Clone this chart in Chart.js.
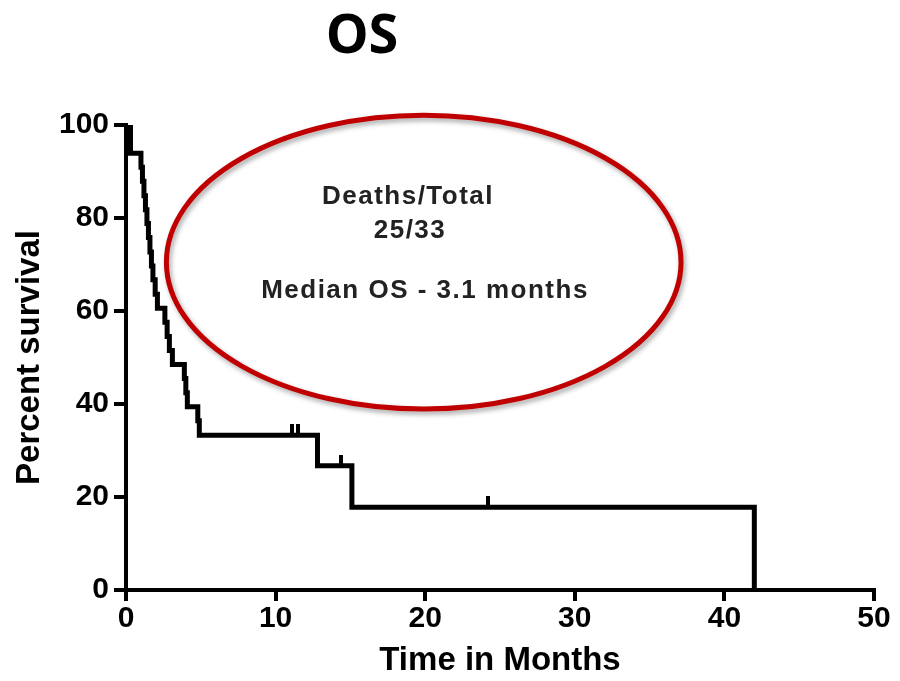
<!DOCTYPE html>
<html>
<head>
<meta charset="utf-8">
<script src="https://cdn.jsdelivr.net/npm/chart.js@4/dist/chart.umd.min.js"></script>
<style>
  html, body { margin: 0; padding: 0; background: #fff; }
  #wrap { width: 900px; height: 681px; }
</style>
</head>
<body>
<div id="wrap"><canvas id="osChart" width="900" height="681"></canvas></div>
<script>
// Kaplan-Meier steps: time (months) and survival (%) after each event
const eventTimes = [0, 0.3, 1.0, 1.1, 1.2, 1.3, 1.4, 1.5, 1.6, 1.7, 1.8, 1.95, 2.1, 2.6, 2.75, 2.9, 3.1, 3.9, 4.0, 4.1, 4.8, 4.9, 12.8, 15.1, 42.0];
const survival = [100, 93.9, 90.9, 87.9, 84.8, 81.8, 78.8, 75.8, 72.7, 69.7, 66.7, 63.6, 60.6, 57.6, 54.5, 51.5, 48.5, 45.5, 42.4, 39.4, 36.4, 33.3, 26.7, 17.8, 0];

// censored patients
const censorTimes = [11.1, 11.5, 14.4, 24.2];
const censorSurvival = [33.3, 33.3, 26.7, 17.8];

const xTicks = [0, 10, 20, 30, 40, 50];
const yTicks = [0, 20, 40, 60, 80, 100];

const titleText = "OS";
const noteLines = ["Deaths/Total", "25/33", "Median OS - 3.1 months"];

// small upward tick used for censor marks
function censorMark() {
    const c = document.createElement("canvas");
    c.width = 4;
    c.height = 22;
    const g = c.getContext("2d");
    g.fillStyle = "#000";
    g.fillRect(0, 0, 4, 11);
    return c;
}

const annotations = {
    id: "annotations",
    afterDraw(chart) {
        const ctx = chart.ctx;
        const xs = chart.scales.x;
        const ys = chart.scales.y;

        // title
        ctx.save();
        ctx.fillStyle = "#000";
        ctx.font = "bold 54px 'Open Sans'";
        ctx.textAlign = "center";
        ctx.textBaseline = "middle";
        ctx.fillText(titleText, 362, 38);
        ctx.restore();

        // red ellipse
        const cx = xs.getPixelForValue(19.9);
        const cy = ys.getPixelForValue(70.5);
        const rx = Math.abs(xs.getPixelForValue(19.9 + 17.2) - cx);
        const ry = Math.abs(ys.getPixelForValue(70.5 + 31.6) - cy);
        ctx.save();
        ctx.shadowColor = "rgba(0,0,0,0.35)";
        ctx.shadowBlur = 5;
        ctx.shadowOffsetX = 2;
        ctx.shadowOffsetY = 3;
        ctx.strokeStyle = "#C00000";
        ctx.lineWidth = 5;
        ctx.beginPath();
        ctx.ellipse(cx, cy, rx, ry, 0, 0, Math.PI * 2);
        ctx.stroke();
        ctx.restore();

        // text in ellipse
        ctx.save();
        ctx.fillStyle = "#222";
        ctx.font = "bold 26px 'Liberation Sans', Arial";
        ctx.letterSpacing = "1.5px";
        ctx.textAlign = "center";
        ctx.textBaseline = "middle";
        ctx.fillText(noteLines[0], 408, 197);
        ctx.fillText(noteLines[1], 410, 231);
        ctx.fillText(noteLines[2], 425, 291);
        ctx.restore();
    },
};

const tickFont = { family: "'Liberation Sans', Arial", size: 30, weight: "bold" };
const titleFont = { family: "'Liberation Sans', Arial", size: 33, weight: "bold" };

const config = {
    type: "line",
    data: {
        datasets: [
            {
                label: "OS",
                data: eventTimes.map((t, i) => ({ x: t, y: survival[i] })),
                stepped: true,
                borderColor: "#000",
                borderWidth: 5,
                borderJoinStyle: "miter",
                borderCapStyle: "butt",
                pointRadius: 0,
                fill: false,
            },
            {
                label: "Censored",
                data: censorTimes.map((t, i) => ({ x: t, y: censorSurvival[i] })),
                showLine: false,
                pointStyle: censorMark(),
                pointRadius: 6,
            },
        ],
    },
    options: {
        responsive: false,
        animation: false,
        layout: {
            padding: { top: 125, right: 26, left: 8, bottom: 0 },
        },
        plugins: {
            legend: { display: false },
            tooltip: { enabled: false },
        },
        scales: {
            x: {
                type: "linear",
                min: 0,
                max: 50,
                afterBuildTicks: (s) => { s.ticks = xTicks.map((v) => ({ value: v })); },
                afterFit: (s) => { s.height = 91; },
                border: { display: true, color: "#000", width: 4 },
                grid: { drawOnChartArea: false, drawTicks: true, tickLength: 11, color: "#000", lineWidth: 4 },
                ticks: { color: "#000", font: tickFont, padding: 0, maxRotation: 0 },
                title: { display: true, text: "Time in Months", color: "#000", font: titleFont, padding: { top: 0, bottom: 0 } },
            },
            y: {
                min: 0,
                max: 100,
                afterBuildTicks: (s) => { s.ticks = yTicks.map((v) => ({ value: v })); },
                afterFit: (s) => { s.width = 118; },
                border: { display: true, color: "#000", width: 4 },
                grid: { drawOnChartArea: false, drawTicks: true, tickLength: 12, color: "#000", lineWidth: 4 },
                ticks: { color: "#000", font: tickFont, padding: 5 },
                title: { display: true, text: "Percent survival", color: "#000", font: titleFont, padding: { top: 2, bottom: 4 } },
            },
        },
    },
    plugins: [annotations],
};

new Chart(document.getElementById("osChart"), config);
</script>
</body>
</html>
